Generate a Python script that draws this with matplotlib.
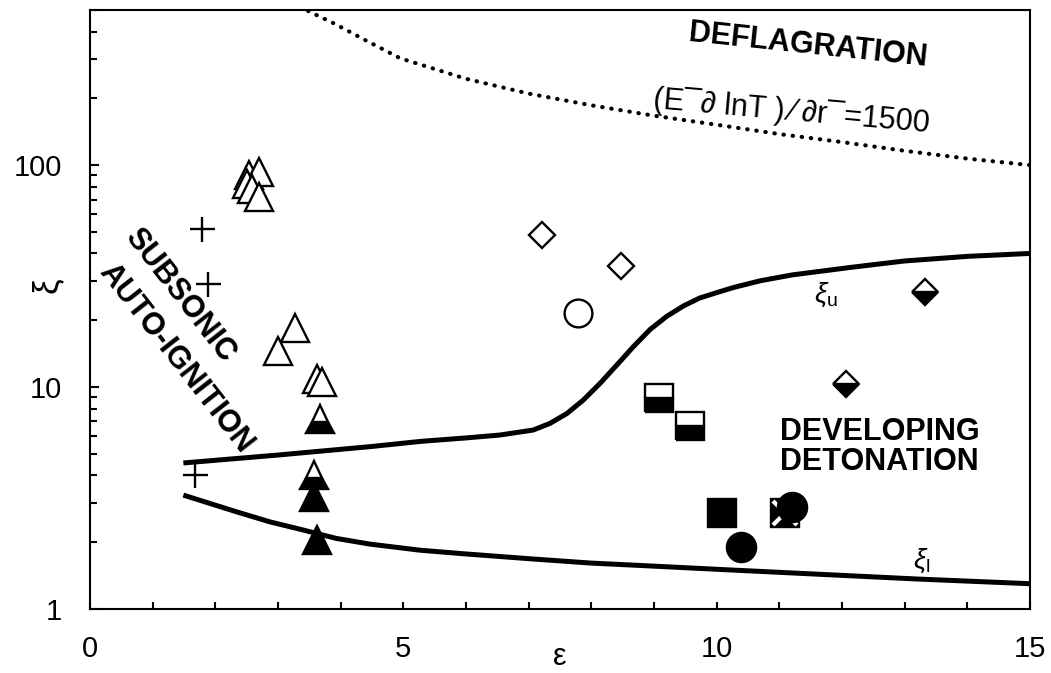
import matplotlib
matplotlib.use("Agg")
import matplotlib.pyplot as plt
import numpy as np

plt.rcParams['font.family'] = ['Liberation Sans', 'DejaVu Sans']
plt.rcParams['mathtext.fontset'] = 'custom'
plt.rcParams['mathtext.rm'] = 'Liberation Sans'
plt.rcParams['mathtext.it'] = 'Liberation Sans:italic'

# boundary curves
xi_u_x = [1.49, 3.0, 4.5, 5.27, 6.0, 6.54, 7.07, 7.34, 7.61, 7.87, 8.14, 8.41, 8.67, 8.94,
          9.2, 9.47, 9.73, 10.05, 10.27, 10.69, 11.2, 12.17, 13.0, 14.0, 15.0]
xi_u_y = [4.55, 4.94, 5.4, 5.69, 5.9, 6.08, 6.4, 6.86, 7.6, 8.73, 10.4, 12.6, 15.2, 18.2,
          20.8, 23.2, 25.2, 26.9, 28.1, 30.1, 32.0, 34.7, 37.0, 38.8, 40.0]
xi_l_x = [1.49, 2.34, 2.87, 3.4, 3.93, 4.47, 5.27, 6.0, 7.07, 8.0, 9.0, 10.0, 11.5, 13.2, 15.0]
xi_l_y = [3.26, 2.74, 2.47, 2.27, 2.08, 1.96, 1.84, 1.77, 1.68, 1.61, 1.56, 1.51, 1.44, 1.365, 1.30]
# dotted line (E dlnT)/dr = 1500
dot_x = [3.48, 3.9, 4.4, 4.95, 6.0, 7.0, 8.0, 9.0, 10.0, 11.0, 12.0, 13.0, 14.0, 15.0]
dot_y = [495, 434, 365, 303, 245, 210, 186, 167, 152, 138, 127, 116, 107, 100]

# points
cross_x = [1.78, 1.89, 1.68]
cross_y = [51.8, 29.2, 4.0]
tri_open_x = [2.53, 2.69, 2.50, 2.58, 2.69, 3.27, 3.0, 3.63, 3.70]
tri_open_y = [90, 93, 82.6, 78, 72, 18.4, 14.6, 10.9, 10.5]
tri_half_x = [3.67, 3.57]
tri_half_y = [7.2, 4.03]
tri_fill_x = [3.57, 3.62]
tri_fill_y = [3.2, 2.05]
dia_open_x = [7.21, 8.48]
dia_open_y = [48.6, 35.1]
circ_open_x = [7.78]
circ_open_y = [21.6]
sq_half_x = [9.08, 9.58]
sq_half_y = [8.95, 6.66]
dia_half_x = [12.06, 13.33]
dia_half_y = [10.35, 26.8]
sq_fill_x = [10.09]
sq_fill_y = [2.70]
sq_cross_x = [11.09]
sq_cross_y = [2.70]
circ_fill_x = [10.39, 11.2]
circ_fill_y = [1.90, 2.87]

fig = plt.figure(figsize=(10.51, 6.73), dpi=100)
ax = fig.add_axes([90/1051, 1-609/673, 940/1051, 599/673])

ax.plot(xi_u_x, xi_u_y, color='black', lw=3.6, solid_capstyle='butt', solid_joinstyle='round')
ax.plot(xi_l_x, xi_l_y, color='black', lw=3.6, solid_capstyle='butt', solid_joinstyle='round')
ax.plot(dot_x, dot_y, color='black', lw=3, linestyle=(0, (0.1, 2.1)),
        dash_capstyle='round')

k = dict(linestyle='none', color='black', mec='black', mew=1.7)
ax.plot(cross_x, cross_y, marker='+', ms=18, **k)
ax.plot(tri_open_x, tri_open_y, marker='^', ms=20, mfc='white', **k)
ax.plot(tri_half_x, tri_half_y, marker='^', ms=20, mfc='black',
        fillstyle='bottom', markerfacecoloralt='white', **k)
ax.plot(tri_fill_x, tri_fill_y, marker='^', ms=20, mfc='black', **k)
ax.plot(dia_open_x, dia_open_y, marker='D', ms=13.5, mfc='white', **k)
ax.plot(circ_open_x, circ_open_y, marker='o', ms=20, mfc='white', **k)
ax.plot(sq_half_x, sq_half_y, marker='s', ms=20, mfc='black',
        fillstyle='bottom', markerfacecoloralt='white', **k)
ax.plot(dia_half_x, dia_half_y, marker='D', ms=13.5, mfc='black',
        fillstyle='bottom', markerfacecoloralt='white', **k)
ax.plot(sq_fill_x, sq_fill_y, marker='s', ms=20, mfc='black', **k)
ax.plot(sq_cross_x, sq_cross_y, marker='s', ms=20, mfc='black', **k)
ax.plot(sq_cross_x, sq_cross_y, marker='x', ms=17, linestyle='none',
        color='white', mew=3)
ax.plot(circ_fill_x, circ_fill_y, marker='o', ms=21, mfc='black', **k)

ax.set_yscale('log')
ax.set_xlim(0, 15)
ax.set_ylim(1, 500)
ax.set_xticks([0, 5, 10, 15])
ax.set_xticks(np.arange(0, 16, 1), minor=True)
ax.set_yticks([1, 10, 100])
ax.set_yticklabels(['1', '10', '100'])
ax.tick_params(which='both', direction='in', labelsize=21, width=1.5)
ax.tick_params(axis='x', which='major', length=5, pad=19)
ax.tick_params(axis='x', which='minor', length=5)
ax.tick_params(axis='y', which='major', length=6.5, pad=20)
ax.tick_params(axis='y', which='minor', length=5, labelleft=False)
for s in ax.spines.values():
    s.set_linewidth(1.5)

ax.set_xlabel('ε', fontsize=22)
ax.xaxis.set_label_coords(0.5, (609 - 665) / 599)
ax.xaxis.label.set_verticalalignment('baseline')
ax.set_ylabel('ξ', fontsize=25)
ax.yaxis.set_label_coords(-0.028, 0.54)

ax.text(11.46, 347, 'DEFLAGRATION', fontsize=22, fontweight='bold',
        rotation=-6, ha='center', va='center', rotation_mode='anchor')
ax.text(11.2, 174, '(E¯∂ lnT )\u2009⁄\u2009∂r¯=1500', fontsize=22,
        rotation=-5, ha='center', va='center', rotation_mode='anchor')
ax.text(12.6, 5.37, 'DEVELOPING\nDETONATION', fontsize=22, fontweight='bold',
        ha='center', va='center', linespacing=1.0)
ax.text(1.44, 25.9, 'SUBSONIC', fontsize=22, fontweight='bold',
        rotation=-52, ha='center', va='center', rotation_mode='anchor')
ax.text(1.37, 13.5, 'AUTO-IGNITION', fontsize=22, fontweight='bold',
        rotation=-52, ha='center', va='center', rotation_mode='anchor')
ax.text(11.75, 26, r'$\xi_{\rm u}$', fontsize=20, ha='center', va='center')
ax.text(13.28, 1.65, r'$\xi_{\rm l}$', fontsize=20, ha='center', va='center')

fig.savefig('out.png', dpi=100)
